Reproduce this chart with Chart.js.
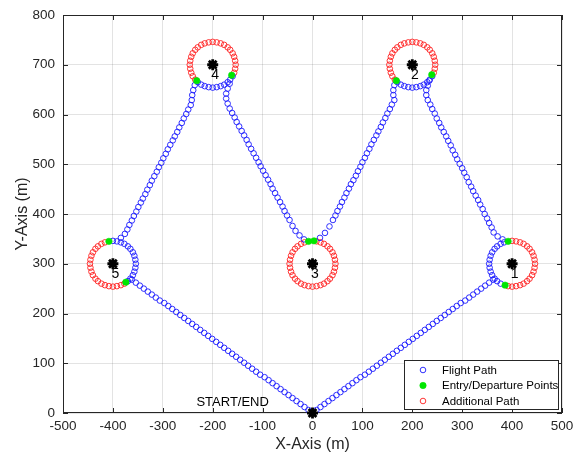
<!DOCTYPE html>
<html>
<head>
<meta charset="utf-8">
<script src="https://cdn.jsdelivr.net/npm/chart.js@4.4.1/dist/chart.umd.min.js"></script>
<style>
html,body{margin:0;padding:0;background:#fff;}
canvas{display:block;}
</style>
</head>
<body>
<canvas id="c" width="573" height="459"></canvas>
<script>
// ---------------- DATA ----------------
const xTicks = [-500,-400,-300,-200,-100,0,100,200,300,400,500];
const yTicks = [0,100,200,300,400,500,600,700,800];

const waypoints = [[400,300],[200,700],[0,300],[-200,700],[-400,300]];
const waypointLabels = ['1','2','3','4','5'];
const startEnd = [[0,0]];
const startEndLabel = 'START/END';

// Flight path (blue open circles), segment by segment
const pathStartToWp1 = [[0,0],[8,6],[16,12],[24,18],[32,24],[40,30],[48,36],[56,42],[64,48],[72,54],[80,60],[88,66],[96,72],[105,77],[113,83],[121,89],[129,95],[137,101],[145,107],[153,113],[161,119],[169,125],[177,131],[185,137],[193,143],[201,149],[209,155],[217,161],[225,167],[233,173],[241,179],[249,185],[257,191],[265,197],[273,203],[281,209],[289,215],[297,221],[306,226],[314,232],[322,238],[330,244],[338,250],[346,256],[354,262],[362,268]];
const pathArcWp1 = [[384,343],[377,340],[370,335],[365,330],[360,323],[357,316],[355,308],[354,300],[355,292],[357,284],[360,277],[365,270],[370,265],[377,260]];
const pathWp1ToWp2 = [[381,349],[371,355],[363,363],[359,373],[354,382],[350,391],[345,400],[341,410],[336,419],[332,428],[327,437],[322,446],[318,455],[313,464],[309,474],[304,483],[300,492],[295,501],[290,510],[286,519],[281,528],[277,538],[272,547],[268,556],[263,565],[258,574],[254,583],[249,592],[245,602],[240,611],[236,620],[231,629],[228,639],[228,649],[231,658],[234,668]];
const pathArcWp2 = [[170,665],[177,660],[184,657],[192,655],[200,654],[208,655],[216,657],[223,660],[230,665],[235,670],[240,677]];
const pathWp2ToWp3 = [[164,659],[162,649],[162,639],[164,629],[159,620],[155,611],[150,602],[146,593],[141,584],[137,575],[132,566],[128,558],[123,549],[118,540],[114,531],[109,522],[105,513],[100,504],[96,495],[91,486],[87,477],[82,468],[77,460],[73,451],[68,442],[64,433],[59,424],[55,415],[50,406],[46,397],[41,388],[34,375],[25,362],[15,352]];
const pathWp3ToWp4 = [[-17,349],[-26,357],[-34,366],[-40,376],[-46,388],[-51,397],[-56,406],[-60,415],[-65,424],[-70,433],[-75,442],[-80,451],[-84,460],[-89,469],[-94,478],[-99,487],[-104,496],[-108,504],[-113,513],[-118,522],[-123,531],[-128,540],[-132,549],[-137,558],[-142,567],[-147,576],[-152,585],[-156,594],[-161,603],[-166,612],[-170,622],[-173,632],[-173,642],[-170,652],[-166,662]];
const pathArcWp4 = [[-230,665],[-223,660],[-216,657],[-208,655],[-200,654],[-192,655],[-184,657],[-177,660],[-170,665],[-165,670],[-160,677]];
const pathWp4ToWp5 = [[-236,659],[-239,649],[-241,639],[-242,629],[-244,619],[-249,610],[-253,601],[-258,592],[-262,583],[-267,574],[-271,565],[-276,556],[-280,548],[-285,539],[-290,530],[-294,521],[-299,512],[-303,503],[-308,494],[-312,485],[-317,476],[-322,467],[-326,458],[-331,449],[-335,440],[-340,431],[-344,423],[-349,414],[-353,405],[-358,396],[-362,387],[-367,378],[-371,369],[-376,360],[-384,352]];
const pathArcWp5 = [[-370,265],[-365,270],[-360,277],[-357,284],[-355,292],[-354,300],[-355,308],[-357,316],[-360,323],[-365,330],[-370,335],[-377,340],[-384,343],[-392,345],[-400,346]];
const pathWp5ToEnd = [[-362,268],[-354,262],[-346,256],[-338,250],[-330,244],[-322,238],[-314,232],[-306,226],[-297,221],[-289,215],[-281,209],[-273,203],[-265,197],[-257,191],[-249,185],[-241,179],[-233,173],[-225,167],[-217,161],[-209,155],[-201,149],[-193,143],[-185,137],[-177,131],[-169,125],[-161,119],[-153,113],[-145,107],[-137,101],[-129,95],[-121,89],[-113,83],[-105,77],[-96,72],[-88,66],[-80,60],[-72,54],[-64,48],[-56,42],[-48,36],[-40,30],[-32,24],[-24,18],[-16,12],[-8,6]];

// Additional path (red open circles) around each waypoint
const extraWp1 = [[400,346],[408,345],[416,343],[423,340],[430,335],[435,330],[440,323],[443,316],[445,308],[446,300],[445,292],[443,284],[440,277],[435,270],[430,265],[423,260],[416,257],[408,255],[400,254],[392,255]];
const extraWp2 = [[243,684],[245,692],[246,700],[245,708],[243,716],[240,723],[235,730],[230,735],[223,740],[216,743],[208,745],[200,746],[192,745],[184,743],[177,740],[170,735],[165,730],[160,723],[157,716],[155,708],[154,700],[155,692],[157,684],[160,677],[165,670]];
const extraWp3 = [[46,300],[45,308],[43,316],[40,323],[35,330],[30,335],[23,340],[16,343],[8,345],[-16,343],[-23,340],[-30,335],[-35,330],[-40,323],[-43,316],[-45,308],[-46,300],[-45,292],[-43,284],[-40,277],[-35,270],[-30,265],[-23,260],[-16,257],[-8,255],[0,254],[8,255],[16,257],[23,260],[30,265],[35,270],[40,277],[43,284],[45,292]];
const extraWp4 = [[-157,684],[-155,692],[-154,700],[-155,708],[-157,716],[-160,723],[-165,730],[-170,735],[-177,740],[-184,743],[-192,745],[-200,746],[-208,745],[-216,743],[-223,740],[-230,735],[-235,730],[-240,723],[-243,716],[-245,708],[-246,700],[-245,692],[-243,684],[-240,677],[-235,670]];
const extraWp5 = [[-416,343],[-423,340],[-430,335],[-435,330],[-440,323],[-443,316],[-445,308],[-446,300],[-445,292],[-443,284],[-440,277],[-435,270],[-430,265],[-423,260],[-416,257],[-408,255],[-400,254],[-392,255],[-384,257],[-377,260]];

// Entry / departure points (green)
const entryDeparture = [[392,345],[386,257],[168,668],[239,680],[-8,345],[3,346],[-232,668],[-162,679],[-408,345],[-374,263]];

// ---------------- CHART ----------------
const toXY = arr => arr.map(p => ({x:p[0], y:p[1]}));
const flightPath = [].concat(pathStartToWp1, pathArcWp1, pathWp1ToWp2, pathArcWp2, pathWp2ToWp3, pathWp3ToWp4, pathArcWp4, pathWp4ToWp5, pathArcWp5, pathWp5ToEnd);
const additionalPath = [].concat(extraWp1, extraWp2, extraWp3, extraWp4, extraWp5);

const FONT = '"Liberation Sans", Arial, Helvetica, sans-serif';
const AX = '#262626';

const decorPlugin = {
  id: 'decor',
  beforeDatasetsDraw(chart) {
    const {ctx, chartArea: a} = chart;
    ctx.save();
    ctx.strokeStyle = AX;
    ctx.lineWidth = 1;
    ctx.strokeRect(Math.round(a.left) + 0.5, Math.round(a.top) + 0.5, Math.round(a.right - a.left) - 1, Math.round(a.bottom - a.top) - 1);
    const xs = chart.scales.x, ys = chart.scales.y;
    ctx.beginPath();
    xTicks.forEach(v => {
      const px = Math.round(xs.getPixelForValue(v)) + 0.5;
      ctx.moveTo(px, a.bottom); ctx.lineTo(px, a.bottom - 5);
      ctx.moveTo(px, a.top); ctx.lineTo(px, a.top + 5);
    });
    yTicks.forEach(v => {
      const py = Math.round(ys.getPixelForValue(v)) + 0.5;
      ctx.moveTo(a.left, py); ctx.lineTo(a.left + 5, py);
      ctx.moveTo(a.right, py); ctx.lineTo(a.right - 5, py);
    });
    ctx.stroke();
    ctx.restore();
  },
  afterDatasetsDraw(chart) {
    const {ctx, chartArea: a} = chart;
    const xs = chart.scales.x, ys = chart.scales.y;
    ctx.save();
    ctx.fillStyle = '#000';
    ctx.font = '14px ' + FONT;
    ctx.textAlign = 'center';
    ctx.textBaseline = 'middle';
    waypoints.forEach((p, i) => {
      ctx.fillText(waypointLabels[i], xs.getPixelForValue(p[0]) + 2.5, ys.getPixelForValue(p[1]) + 10);
    });
    ctx.font = '13px ' + FONT;
    ctx.fillText(startEndLabel, xs.getPixelForValue(-160), ys.getPixelForValue(22));

    // legend
    const w = 154, h = 49;
    const lx = a.right - 4 - w, ly = a.bottom - 4 - h;
    ctx.fillStyle = '#fff';
    ctx.fillRect(lx, ly, w, h);
    ctx.strokeStyle = AX;
    ctx.lineWidth = 1;
    ctx.strokeRect(Math.round(lx) + 0.5, Math.round(ly) + 0.5, w, h);
    const ds = chart.data.datasets;
    ctx.font = '11.5px ' + FONT;
    ctx.textAlign = 'left';
    [0, 1, 2].forEach((di, r) => {
      const d = ds[di];
      const cy = ly + 10 + r * 15.5;
      const cx = lx + 19;
      ctx.beginPath();
      ctx.arc(cx, cy, d.pointRadius, 0, Math.PI * 2);
      if (d.filled) { ctx.fillStyle = d.backgroundColor; ctx.fill(); }
      ctx.strokeStyle = d.borderColor;
      ctx.lineWidth = d.borderWidth;
      ctx.stroke();
      ctx.fillStyle = '#000';
      ctx.fillText(d.label, lx + 38, cy + 0.5);
    });
    ctx.restore();
  }
};

new Chart(document.getElementById('c'), {
  type: 'scatter',
  data: {
    datasets: [
      {label:'Flight Path', data: toXY(flightPath), pointStyle:'circle', pointRadius:2.8, borderColor:'#1a1aff', backgroundColor:'rgba(0,0,0,0)', borderWidth:0.9, order:2, clip:false},
      {label:'Entry/Departure Points', data: toXY(entryDeparture), pointStyle:'circle', pointRadius:3.2, borderColor:'#00e600', backgroundColor:'#00e600', borderWidth:0.6, order:1, clip:false, filled:true},
      {label:'Additional Path', data: toXY(additionalPath), pointStyle:'circle', pointRadius:2.8, borderColor:'#ff2020', backgroundColor:'rgba(0,0,0,0)', borderWidth:0.9, order:3, clip:false},
      {label:'Waypoints', data: toXY(waypoints.concat(startEnd)), pointStyle:'star', pointRadius:5.5, borderColor:'#000', backgroundColor:'#000', borderWidth:2.8, order:0, clip:false}
    ]
  },
  options: {
    responsive: false,
    animation: false,
    devicePixelRatio: 1,
    layout: {padding: {top:15, right:11, left:0, bottom:0}},
    plugins: {legend:{display:false}, tooltip:{enabled:false}},
    elements: {point:{hoverRadius:0}},
    scales: {
      x: {
        type:'linear', min:-500, max:500,
        afterBuildTicks: s => { s.ticks = xTicks.map(v => ({value:v})); },
        afterFit: s => { s.height = 46; s.paddingLeft = 0; s.paddingRight = 0; },
        ticks: {font:{family:FONT, size:13.5}, color:AX, padding:5, maxRotation:0},
        grid: {color:'rgba(38,38,38,0.13)', drawTicks:false, lineWidth:1},
        border: {display:false},
        title: {display:true, text:'X-Axis (m)', font:{family:FONT, size:16}, color:AX, padding:{top:0, bottom:5}}
      },
      y: {
        type:'linear', min:0, max:800,
        afterBuildTicks: s => { s.ticks = yTicks.map(v => ({value:v})); },
        afterFit: s => { s.width = 63; s.paddingTop = 0; s.paddingBottom = 0; },
        ticks: {font:{family:FONT, size:13.5}, color:AX, padding:8},
        grid: {color:'rgba(38,38,38,0.13)', drawTicks:false, lineWidth:1},
        border: {display:false},
        title: {display:true, text:'Y-Axis (m)', font:{family:FONT, size:16}, color:AX, padding:{top:13, bottom:0}}
      }
    }
  },
  plugins: [decorPlugin]
});
</script>
</body>
</html>
